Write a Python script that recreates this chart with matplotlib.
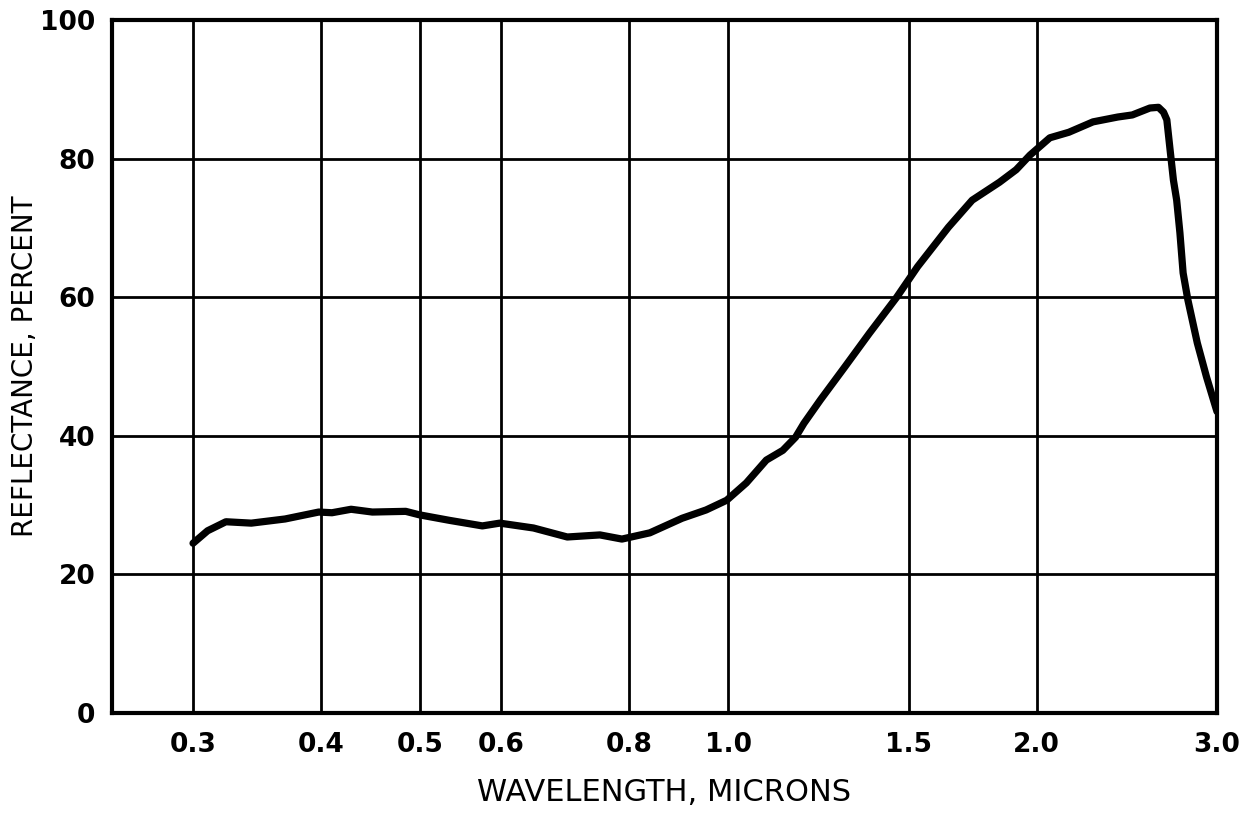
import matplotlib
matplotlib.use("Agg")
import matplotlib.pyplot as plt
from matplotlib.ticker import FixedLocator, NullLocator

# Data
wavelength = [0.300, 0.310, 0.323, 0.342, 0.369, 0.398, 0.410, 0.428, 0.449, 0.484, 0.499,
              0.534, 0.575, 0.598, 0.645, 0.696, 0.749, 0.787, 0.838, 0.901, 0.951,
              0.996, 1.041, 1.089, 1.130, 1.163, 1.185, 1.230, 1.300, 1.373, 1.460,
              1.530, 1.640, 1.730, 1.840, 1.910, 1.970, 2.060, 2.150, 2.270, 2.400,
              2.480, 2.580, 2.630, 2.660, 2.680, 2.700, 2.720, 2.740, 2.760, 2.780,
              2.810, 2.870, 2.930, 2.990, 3.000]
reflectance = [24.5, 26.3, 27.6, 27.4, 28.0, 29.0, 28.9, 29.4, 29.0, 29.1, 28.6,
               27.8, 27.0, 27.4, 26.7, 25.4, 25.7, 25.1, 26.0, 28.1, 29.3,
               30.7, 33.2, 36.5, 37.9, 39.8, 41.8, 45.2, 50.0, 54.8, 60.0,
               64.4, 70.1, 74.0, 76.6, 78.4, 80.5, 83.0, 83.8, 85.3, 86.0,
               86.3, 87.3, 87.4, 86.7, 85.6, 81.2, 76.9, 74.0, 69.3, 63.5,
               59.6, 53.4, 48.5, 44.2, 43.5]

x_ticks = [0.3, 0.4, 0.5, 0.6, 0.8, 1.0, 1.5, 2.0, 3.0]
x_tick_labels = ["0.3", "0.4", "0.5", "0.6", "0.8", "1.0", "1.5", "2.0", "3.0"]
y_ticks = [0, 20, 40, 60, 80, 100]
y_tick_labels = ["0", "20", "40", "60", "80", "100"]

fig = plt.figure(figsize=(12.58, 8.16), dpi=100)
ax = fig.add_axes([0.0890, 0.1262, 0.8784, 0.8493])

ax.set_xscale("log")
ax.set_xlim(0.25, 3.0)
ax.set_ylim(0, 100)

ax.xaxis.set_major_locator(FixedLocator(x_ticks))
ax.xaxis.set_minor_locator(NullLocator())
ax.set_xticklabels(x_tick_labels)
ax.set_yticks(y_ticks)
ax.set_yticklabels(y_tick_labels)

ax.grid(True, which="major", color="black", linewidth=2.0)
ax.set_axisbelow(True)

ax.plot(wavelength, reflectance, color="black", linewidth=5.2,
        solid_capstyle="round", solid_joinstyle="round")

for s in ax.spines.values():
    s.set_linewidth(3.0)
    s.set_color("black")

ax.tick_params(axis="both", length=0)
ax.tick_params(axis="x", pad=14)
ax.tick_params(axis="y", pad=12)
for lab in ax.get_xticklabels():
    lab.set_fontfamily("DejaVu Sans")
    lab.set_fontweight("bold")
    lab.set_fontsize(19)
for lab in ax.get_yticklabels():
    lab.set_fontfamily("DejaVu Sans")
    lab.set_fontweight("bold")
    lab.set_fontsize(19)

ax.set_xlabel("WAVELENGTH, MICRONS", fontsize=22, fontfamily="DejaVu Sans", labelpad=14)
ax.set_ylabel("REFLECTANCE, PERCENT", fontsize=20, fontfamily="DejaVu Sans")
ax.yaxis.set_label_coords(-0.066, 0.5)

fig.savefig("out.png", dpi=100)
